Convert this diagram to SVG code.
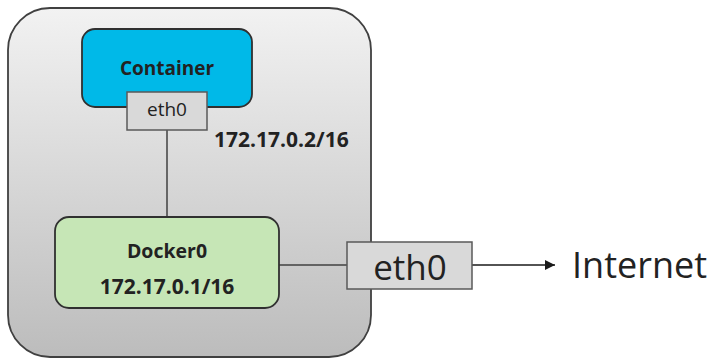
<svg xmlns="http://www.w3.org/2000/svg" width="710" height="360" viewBox="0 0 710 360">
<defs>
<linearGradient id="hostGrad" x1="0" y1="0" x2="0" y2="1">
<stop offset="0" stop-color="#f2f2f2"/>
<stop offset="1" stop-color="#bcbcbc"/>
</linearGradient>
<marker id="arrow" viewBox="0 0 10 10" refX="10" refY="5" markerWidth="15" markerHeight="10" markerUnits="userSpaceOnUse" orient="auto">
<path d="M0,0 L10,5 L0,10 z" fill="#1a1a1a"/>
</marker>
</defs>
<style>
.b{font-family:"Open Sans","Liberation Sans",sans-serif;font-weight:bold;fill:#222222}
.r{font-family:"Open Sans","Liberation Sans",sans-serif;fill:#222222}
.port{fill:#d9d9d9;stroke:#595959;stroke-width:1.5}
.ln{stroke:#404040;stroke-width:1.5;fill:none}
</style>
<rect width="710" height="360" fill="#ffffff"/>
<g id="host">
<rect x="8" y="8" width="363" height="349" rx="42" fill="url(#hostGrad)" stroke="#404040" stroke-width="1.8"/>
</g>
<g id="connectors">
<line class="ln" x1="167" y1="130" x2="167" y2="217"/>
<line class="ln" x1="279" y1="265" x2="347" y2="265"/>
<line x1="472" y1="265" x2="555" y2="265" stroke="#1a1a1a" stroke-width="1.5" marker-end="url(#arrow)"/>
</g>
<g id="container">
<rect x="82" y="29" width="170" height="78" rx="13" fill="#00b9e8" stroke="#303030" stroke-width="1.8"/>
<text class="b" x="167" y="75" font-size="19" text-anchor="middle">Container</text>
</g>
<g id="container-eth0">
<rect class="port" x="127" y="92" width="80" height="38"/>
<text class="r" x="167" y="116" font-size="19" text-anchor="middle">eth0</text>
</g>
<g id="container-ip">
<text class="b" x="214" y="147" font-size="21">172.17.0.2/16</text>
</g>
<g id="docker0">
<rect x="55" y="217" width="224" height="91" rx="14" fill="#c6e6b6" stroke="#303030" stroke-width="1.8"/>
<text class="b" x="167" y="258" font-size="19.5" text-anchor="middle">Docker0</text>
<text class="b" x="167" y="294" font-size="21" text-anchor="middle">172.17.0.1/16</text>
</g>
<g id="host-eth0">
<rect class="port" x="347" y="242" width="125" height="47"/>
<text class="r" x="410" y="280" font-size="35" text-anchor="middle">eth0</text>
</g>
<g id="internet">
<text class="r" x="572" y="278" font-size="36">Internet</text>
</g>
</svg>
